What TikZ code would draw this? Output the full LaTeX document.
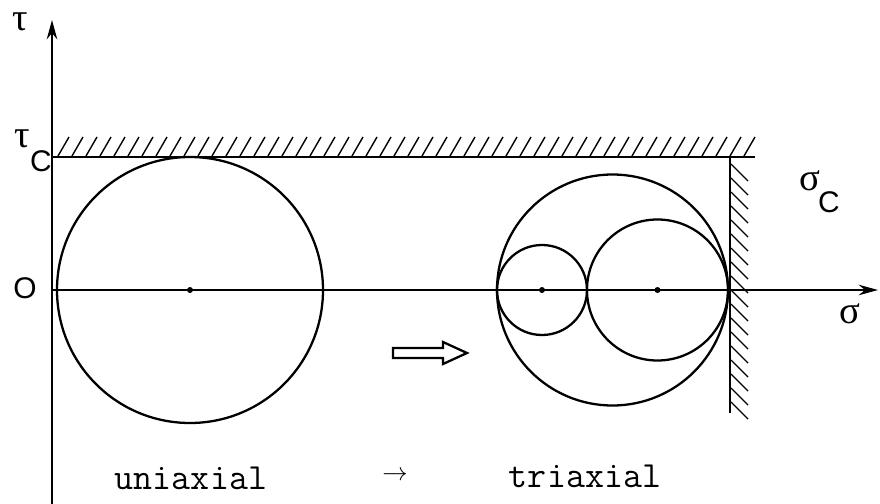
\documentclass[tikz,border=0pt]{standalone}
\usepackage{amsmath,amssymb}
\usepackage{fontspec}
\usetikzlibrary{arrows.meta,calc}
\usepackage{xcolor}
\newfontfamily\grk{Liberation Serif}
\newfontfamily\rnd{Liberation Sans}

\begin{document}
\begin{tikzpicture}[x=0.02cm, y=-0.02cm, >={Stealth[length=11pt,width=6pt]},
  curve/.style={line width=1.3pt},
  hatch/.style={line width=0.8pt},
  lbl/.style={font=\fontsize{21}{24}\selectfont\ttfamily, inner sep=0pt},
  capletter/.style={font=\fontsize{17}{20}\selectfont\rnd, inner sep=0pt},
  sym/.style={font=\fontsize{22}{24}\selectfont\grk, inner sep=0pt}]
\useasboundingbox (0,0) rectangle (880,504);
% axes
\coordinate (O) at (52,290);
\coordinate (Tb) at (52,504); \coordinate (Tt) at (52,20);
\coordinate (Se) at (878,290);
\draw[line width=1.1pt,->] (Tb) -- (Tt);
\draw[line width=1.1pt,->] (O) -- (Se);
\node[capletter] (o) at (25,288) {O};
\node[sym] (tau) at (20,22) {τ};
\node[sym] (sig) at (850,314) {σ};
% limits
\coordinate (L1) at (52,157); \coordinate (L2) at (755,157);
\coordinate (W1) at (730,157); \coordinate (W2) at (730,413);
\draw[line width=1.1pt] (L1) -- (L2);
\draw[line width=1.1pt] (W1) -- (W2);
\foreach \x in {58,72,...,750}
  {\draw[hatch] (\x,156) -- (\x+11,137);}
\foreach \y in {164,178,...,404}
  {\draw[hatch] (731,\y) -- (748,\y+17);}
\node[sym] (tc) at (22,139) {τ};
\node[capletter] (tcc) at (41,161) {C};
\node[sym] (sc) at (810,181) {σ};
\node[capletter] (scc) at (829,202) {C};
% circles
\coordinate (M1) at (190,290);
\coordinate (M2) at (612.5,290);
\coordinate (M3) at (542,290);
\coordinate (M4) at (657.5,290);
\draw[curve] (M1) circle (133);
\draw[curve] (M2) circle (115.5);
\draw[curve] (M3) circle (45);
\draw[curve] (M4) circle (70.5);
\foreach \p in {M1,M3,M4}
  {\fill (\p) circle (3);}
% transition
\draw[line width=1.3pt] (393,348) -- (443,348) -- (443,342) -- (467,353)
  -- (443,364) -- (443,358) -- (393,358) -- cycle;
\node[lbl] (uni) at (191,478) {uniaxial};
\node[font=\fontsize{15}{16}\selectfont, inner sep=0pt] (to) at (395,476) {$\rightarrow$};
\node[lbl] (tri) at (585,476) {triaxial};
\end{tikzpicture}
\end{document}
